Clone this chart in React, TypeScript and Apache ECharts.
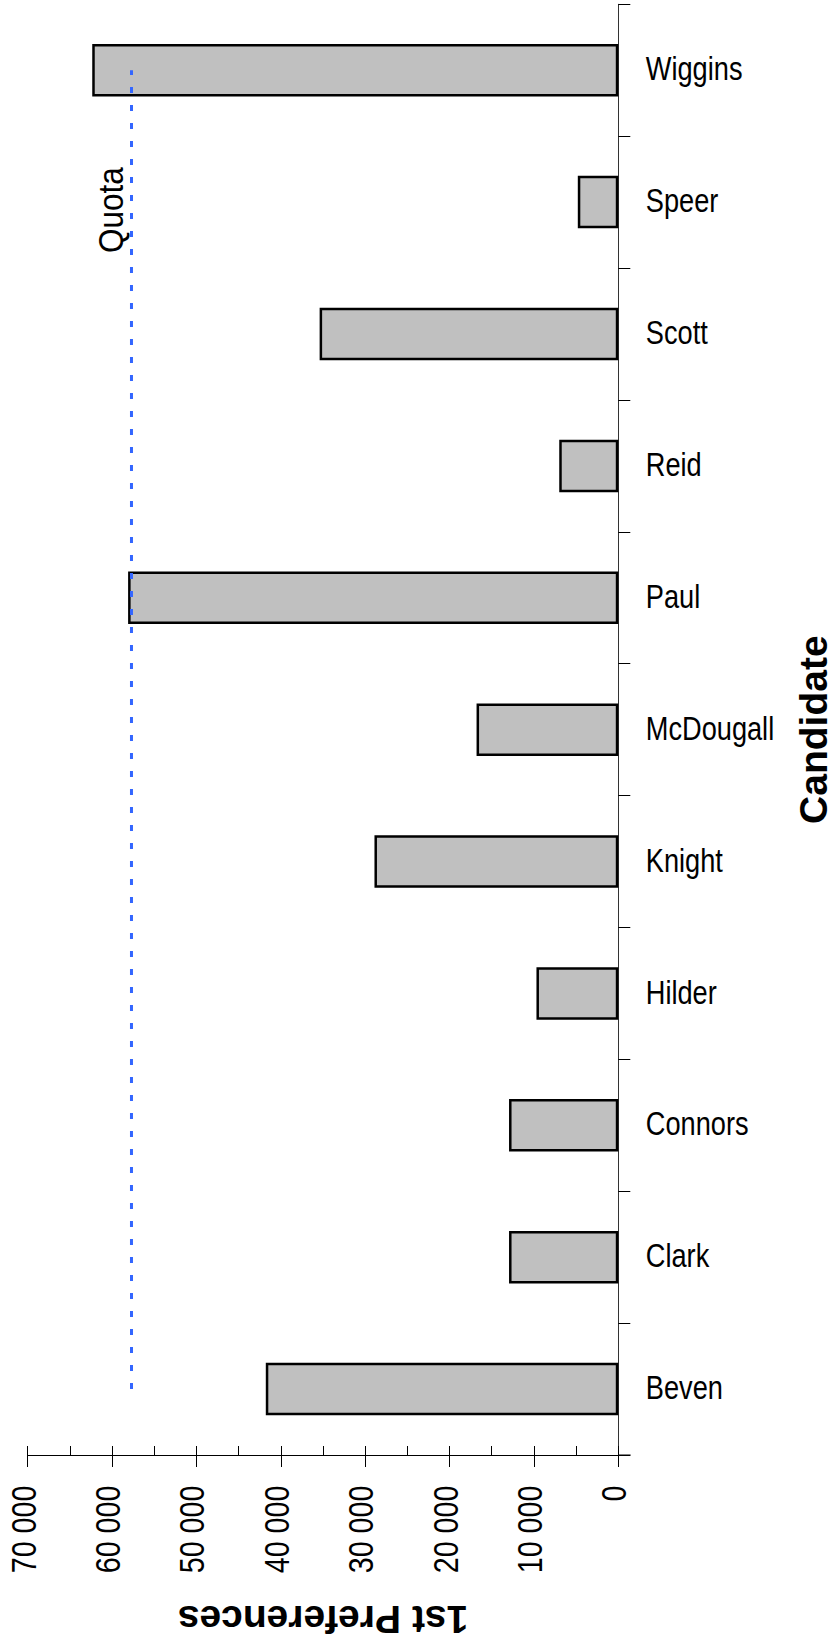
import React, { useEffect, useRef } from "react";
import * as echarts from "echarts";

const candidates = ["Beven", "Clark", "Connors", "Hilder", "Knight", "McDougall", "Paul", "Reid", "Scott", "Speer", "Wiggins"];
const firstPreferences = [41780, 12950, 12950, 9700, 28900, 16800, 58100, 7000, 35400, 4800, 62350];
const quota = 57700;
const quotaLine = candidates.map(() => quota);
const valueMin = 0;
const valueMax = 70000;
const valueInterval = 10000;
const valueTicks = [0, 10000, 20000, 30000, 40000, 50000, 60000, 70000];

const W = 835;
const H = 1648;
const gridLeft = 27.7;
const gridRight = 216.7;
const gridTop = 4.3;
const gridBottom = 193;
const sans = "'Liberation Sans', Arial, Helvetica, sans-serif";

const fmt = (v: number) => String(v).replace(/\B(?=(\d{3})+(?!\d))/g, " ");

export default function App() {
  const ref = useRef<HTMLDivElement>(null);
  useEffect(() => {
    if (!ref.current) return;
    const chart = echarts.init(ref.current, null, { renderer: "svg" });
    const axisY = H - gridBottom;
    const zeroX = W - gridRight;
    chart.setOption({
      animation: false,
      backgroundColor: "#fff",
      grid: {
        left: gridLeft,
        right: gridRight,
        top: gridTop,
        bottom: gridBottom,
        containLabel: false,
        outerBoundsMode: "none",
      },
      xAxis: [
        {
          type: "value",
          inverse: true,
          min: valueMin,
          max: valueMax,
          interval: valueInterval,
          position: "bottom",
          axisLine: { show: true, lineStyle: { color: "#000", width: 1 } },
          axisTick: { show: true, inside: false, length: 12, lineStyle: { color: "#000", width: 1 } },
          minorTick: { show: false },
          splitLine: { show: false },
          axisLabel: { show: false },
          name: "1st Preferences",
          nameLocation: "middle",
          nameRotate: 180,
          nameGap: 145,
          nameTextStyle: { fontSize: 39, fontWeight: "bold", fontFamily: sans, color: "#000" },
        },
        {
          type: "value",
          inverse: true,
          min: valueMin,
          max: valueMax,
          interval: valueInterval,
          position: "bottom",
          axisLine: { show: false },
          axisTick: { show: true, inside: true, length: 9, lineStyle: { color: "#000", width: 1 } },
          minorTick: { show: true, splitNumber: 2, length: 9, lineStyle: { color: "#000", width: 1 } },
          splitLine: { show: false },
          minorSplitLine: { show: false },
          axisLabel: { show: false },
        },
      ],
      yAxis: {
        type: "category",
        data: candidates,
        position: "right",
        axisLine: { show: true, lineStyle: { color: "#333", width: 1 } },
        axisTick: { show: true, inside: false, length: 12, alignWithLabel: false, lineStyle: { color: "#000", width: 1 } },
        splitLine: { show: false },
        axisLabel: { show: false },
        name: "Candidate",
        nameLocation: "middle",
        nameRotate: 90,
        nameGap: 176,
        nameTextStyle: { fontSize: 39, fontWeight: "bold", fontFamily: sans, color: "#000" },
      },
      series: [
        {
          type: "bar",
          xAxisIndex: 0,
          data: firstPreferences,
          barWidth: 52.5,
          itemStyle: { color: "#c0c0c0", borderColor: "#000", borderWidth: 2.5 },
          z: 2,
        },
        {
          type: "line",
          xAxisIndex: 0,
          data: quotaLine,
          symbol: "none",
          lineStyle: { color: "#3366ff", width: 3, type: [6, 12] },
          z: 5,
        },
      ],
    });

    const graphics: any[] = [];
    graphics.push({
      type: "line",
      shape: { x1: zeroX, y1: axisY, x2: zeroX + 12.3, y2: axisY },
      style: { stroke: "#000", lineWidth: 1 },
      z: 10,
    });
    candidates.forEach((c) => {
      const py = chart.convertToPixel({ yAxisIndex: 0 }, c) as number;
      graphics.push({
        type: "text",
        x: zeroX + 27.5,
        y: py - 1.5,
        scaleX: 0.8,
        style: {
          text: c,
          fontSize: 34,
          fontFamily: sans,
          fill: "#000",
          align: "left",
          verticalAlign: "middle",
        },
        z: 10,
      });
    });
    valueTicks.forEach((v) => {
      const px = chart.convertToPixel({ xAxisIndex: 0 }, v) as number;
      graphics.push({
        type: "text",
        x: px - 4,
        y: axisY + 30.5,
        rotation: Math.PI / 2,
        scaleX: 0.82,
        style: {
          text: fmt(v),
          fontSize: 35,
          fontFamily: sans,
          fill: "#000",
          align: "right",
          verticalAlign: "middle",
        },
        z: 10,
      });
    });
    const qx = chart.convertToPixel({ xAxisIndex: 0 }, quota) as number;
    const qy = chart.convertToPixel({ yAxisIndex: 0 }, candidates[9]) as number;
    graphics.push({
      type: "text",
      x: qx - 3,
      y: qy + 8,
      rotation: Math.PI / 2,
      scaleX: 0.9,
      style: {
        text: "Quota",
        fontSize: 35,
        fontFamily: sans,
        fill: "#000",
        align: "center",
        verticalAlign: "bottom",
      },
      z: 10,
    });
    chart.setOption({ graphic: graphics });
    return () => chart.dispose();
  }, []);
  return <div ref={ref} style={{ position: "absolute", left: 0, top: 0, width: W, height: H }} />;
}
